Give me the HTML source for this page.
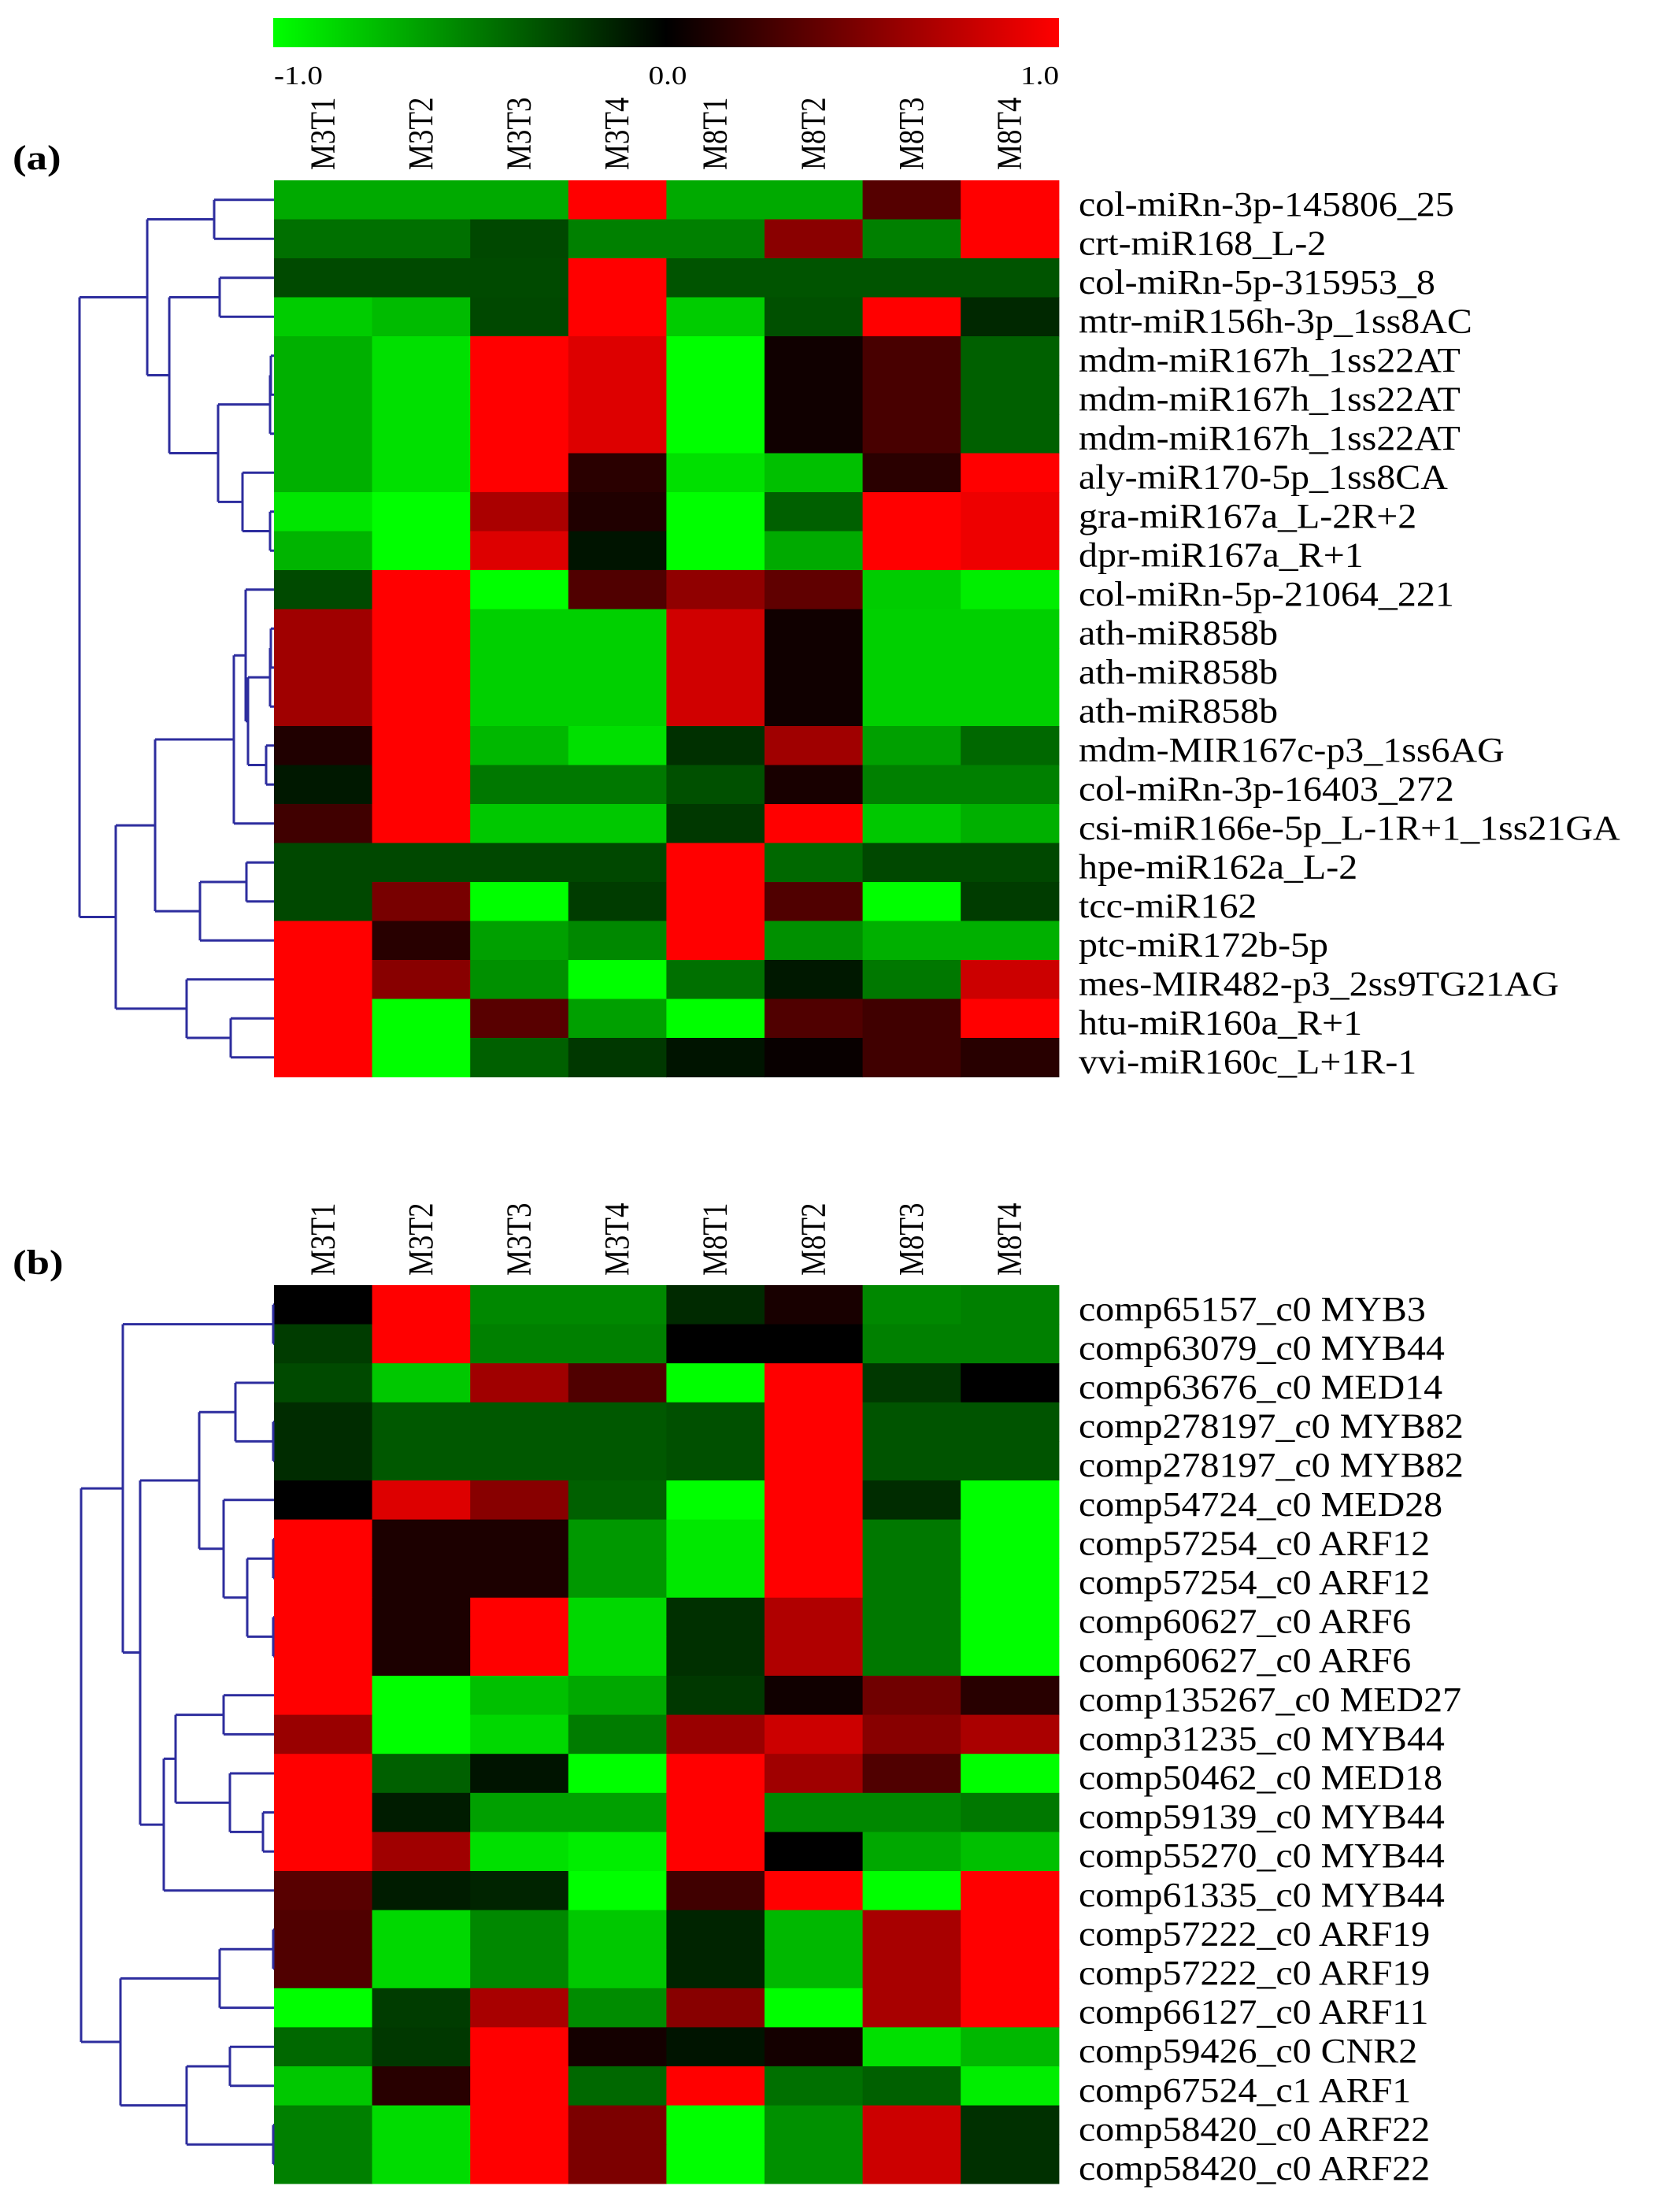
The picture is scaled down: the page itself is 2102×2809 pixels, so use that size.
<!DOCTYPE html>
<html><head><meta charset="utf-8"><style>
html,body{margin:0;padding:0;background:#fff;}
svg{display:block;}
text{font-family:"Liberation Serif",serif;fill:#000;}
</style></head><body>
<svg width="2102" height="2809" viewBox="0 0 2102 2809" xmlns="http://www.w3.org/2000/svg">
<defs>
<linearGradient id="cb" x1="0" x2="1" y1="0" y2="0">
<stop offset="0" stop-color="#00ff00"/><stop offset="0.5" stop-color="#000000"/><stop offset="1" stop-color="#ff0000"/>
</linearGradient>
</defs>
<rect x="347" y="23" width="998" height="37" fill="url(#cb)"/>
<g font-size="34">
<text transform="translate(348,107) scale(1.15,1)">-1.0</text>
<text transform="translate(848,107) scale(1.15,1)" text-anchor="middle">0.0</text>
<text transform="translate(1345,107) scale(1.15,1)" text-anchor="end">1.0</text>
</g>
<text transform="translate(16,215) scale(1.2,1)" font-size="44" font-weight="bold">(a)</text>
<text transform="translate(16,1618) scale(1.2,1)" font-size="44" font-weight="bold">(b)</text>
<g id="cells"></g>
<g id="labels"></g>
<g id="dend" fill="none" stroke="#2d2d9e" stroke-width="3"></g>
</svg>
<script>
const NS="http://www.w3.org/2000/svg";
const cols=["M3T1","M3T2","M3T3","M3T4","M8T1","M8T2","M8T3","M8T4"];
const A=[
["#00aa00","#00aa00","#00aa00","#ff0000","#00aa00","#00aa00","#550000","#ff0000"],
["#007000","#007000","#004800","#008000","#008000","#8a0000","#008000","#ff0000"],
["#004a00","#004a00","#004a00","#ff0000","#005400","#005400","#005400","#005400"],
["#00cc00","#00bb00","#004800","#ff0000","#00cc00","#005000","#ff0000","#002800"],
["#00b000","#00e000","#ff0000","#dd0000","#00ff00","#100000","#480000","#006000"],
["#00b000","#00e000","#ff0000","#dd0000","#00ff00","#100000","#480000","#006000"],
["#00b000","#00e000","#ff0000","#dd0000","#00ff00","#100000","#480000","#006000"],
["#00b000","#00e000","#ff0000","#2a0000","#00e000","#00c000","#2a0000","#ff0000"],
["#00e600","#00ff00","#aa0000","#200000","#00ff00","#006000","#ff0000","#ee0000"],
["#00b400","#00ff00","#dd0000","#001400","#00ff00","#00aa00","#ff0000","#ee0000"],
["#004a00","#ff0000","#00ff00","#500000","#900000","#600000","#00cc00","#00ee00"],
["#a00000","#ff0000","#00d000","#00d000","#d00000","#100000","#00d000","#00d000"],
["#a00000","#ff0000","#00d000","#00d000","#d00000","#100000","#00d000","#00d000"],
["#a00000","#ff0000","#00d000","#00d000","#d00000","#100000","#00d000","#00d000"],
["#200000","#ff0000","#00b800","#00e000","#003000","#a00000","#00a000","#006800"],
["#001800","#ff0000","#007800","#007800","#005000","#180000","#008000","#008000"],
["#400000","#ff0000","#00c800","#00c800","#003800","#ff0000","#00c800","#00b000"],
["#004800","#004800","#004800","#004800","#ff0000","#006800","#004800","#004800"],
["#004800","#780000","#00ff00","#003c00","#ff0000","#500000","#00ff00","#003c00"],
["#ff0000","#280000","#00a000","#008800","#ff0000","#009000","#00b000","#00b000"],
["#ff0000","#880000","#009000","#00ff00","#007000","#001800","#007800","#cc0000"],
["#ff0000","#00ff00","#580000","#00a000","#00ff00","#500000","#400000","#ff0000"],
["#ff0000","#00ff00","#006000","#003800","#001400","#080000","#400000","#280000"]];
const AL=["col-miRn-3p-145806_25","crt-miR168_L-2","col-miRn-5p-315953_8","mtr-miR156h-3p_1ss8AC","mdm-miR167h_1ss22AT","mdm-miR167h_1ss22AT","mdm-miR167h_1ss22AT","aly-miR170-5p_1ss8CA","gra-miR167a_L-2R+2","dpr-miR167a_R+1","col-miRn-5p-21064_221","ath-miR858b","ath-miR858b","ath-miR858b","mdm-MIR167c-p3_1ss6AG","col-miRn-3p-16403_272","csi-miR166e-5p_L-1R+1_1ss21GA","hpe-miR162a_L-2","tcc-miR162","ptc-miR172b-5p","mes-MIR482-p3_2ss9TG21AG","htu-miR160a_R+1","vvi-miR160c_L+1R-1"];
const B=[
["#000000","#ff0000","#008800","#008800","#002a00","#180000","#008800","#008000"],
["#003c00","#ff0000","#008000","#008000","#000000","#000000","#008000","#008000"],
["#004a00","#00c800","#a00000","#500000","#00ff00","#ff0000","#003800","#000000"],
["#002c00","#005800","#005800","#005800","#005000","#ff0000","#005400","#005400"],
["#002c00","#005800","#005800","#005800","#005000","#ff0000","#005400","#005400"],
["#000000","#dd0000","#880000","#006000","#00ff00","#ff0000","#002c00","#00ff00"],
["#ff0000","#1c0000","#1c0000","#009800","#00e800","#ff0000","#007800","#00ff00"],
["#ff0000","#1c0000","#1c0000","#009800","#00e800","#ff0000","#007800","#00ff00"],
["#ff0000","#1c0000","#ff0000","#00d800","#003000","#b00000","#007800","#00ff00"],
["#ff0000","#1c0000","#ff0000","#00d800","#003000","#b00000","#007800","#00ff00"],
["#ff0000","#00ff00","#00c000","#00a800","#003800","#100000","#700000","#280000"],
["#990000","#00ff00","#00d800","#007c00","#990000","#cc0000","#880000","#aa0000"],
["#ff0000","#006000","#001400","#00ff00","#ff0000","#a00000","#500000","#00ff00"],
["#ff0000","#001c00","#00a000","#00a000","#ff0000","#008800","#008800","#007800"],
["#ff0000","#a00000","#00e000","#00ee00","#ff0000","#000000","#00a800","#00c000"],
["#580000","#001c00","#002400","#00ff00","#400000","#ff0000","#00ff00","#ff0000"],
["#500000","#00d800","#008800","#00c800","#002400","#00b800","#a80000","#ff0000"],
["#500000","#00d800","#008800","#00c800","#002400","#00b800","#a80000","#ff0000"],
["#00ff00","#003c00","#a80000","#008c00","#880000","#00ff00","#a80000","#ff0000"],
["#006800","#003800","#ff0000","#140000","#001400","#140000","#00e000","#00b800"],
["#00c800","#280000","#ff0000","#006800","#ff0000","#007000","#006000","#00ee00"],
["#008000","#00dc00","#ff0000","#7c0000","#00ff00","#009000","#cc0000","#003000"],
["#008000","#00dc00","#ff0000","#7c0000","#00ff00","#009000","#cc0000","#003000"]];
const BL=["comp65157_c0 MYB3","comp63079_c0 MYB44","comp63676_c0 MED14","comp278197_c0 MYB82","comp278197_c0 MYB82","comp54724_c0 MED28","comp57254_c0 ARF12","comp57254_c0 ARF12","comp60627_c0 ARF6","comp60627_c0 ARF6","comp135267_c0 MED27","comp31235_c0 MYB44","comp50462_c0 MED18","comp59139_c0 MYB44","comp55270_c0 MYB44","comp61335_c0 MYB44","comp57222_c0 ARF19","comp57222_c0 ARF19","comp66127_c0 ARF11","comp59426_c0 CNR2","comp67524_c1 ARF1","comp58420_c0 ARF22","comp58420_c0 ARF22"];
const X0=348, CW=124.6;
function el(t,a,p,txt){const e=document.createElementNS(NS,t);for(const k in a)e.setAttribute(k,a[k]);if(txt)e.textContent=txt;p.appendChild(e);return e;}
const gc=document.getElementById("cells"), gl=document.getElementById("labels"), gd=document.getElementById("dend");
function heat(M,L,top,rh,colBottom){
  M.forEach((r,i)=>r.forEach((c,j)=>el("rect",{x:X0+CW*j,y:top+rh*i,width:CW+0.6,height:rh+0.6,fill:c},gc)));
  L.forEach((t,i)=>el("text",{transform:`translate(1370,${top+rh*(i+0.5)+20}) scale(1.09,1)`,"font-size":"44"},gl,t));
  cols.forEach((t,j)=>el("text",{transform:`translate(${X0+CW*(j+0.5)+14},${colBottom}) scale(1.2,1) rotate(-90)`,"font-size":"37"},gl,t));
}
const TA=229, RA=49.5, TB=1632, RB=49.6;
heat(A,AL,TA,RA,216);
heat(B,BL,TB,RB,1620);
const LEAF=348;
function ya(i){return TA+RA*(i+0.5);} function yb(i){return TB+RB*(i+0.5);}
function build(node,rowY){
  if(typeof node==="number") return {y:rowY(node),x:LEAF};
  const kids=node.c.map(k=>build(k,rowY));
  const ys=kids.map(k=>k.y);
  const ymin=Math.min(...ys), ymax=Math.max(...ys);
  el("path",{d:`M${node.x},${ymin}V${ymax}`},gd);
  kids.forEach(k=>el("path",{d:`M${node.x},${k.y}H${k.x}`},gd));
  return {x:node.x,y:(ymin+ymax)/2};
}
const treeA={x:101,c:[
  {x:187,c:[{x:272,c:[0,1]},{x:215,c:[{x:279,c:[2,3]},{x:277,c:[{x:343,c:[{x:344,c:[4,5]},6]},{x:308,c:[7,{x:343,c:[8,9]}]}]}]}]},
  {x:147,c:[
    {x:197,c:[{x:297,c:[{x:312,c:[10,{x:315,c:[{x:343,c:[{x:344,c:[11,12]},13]},{x:338,c:[14,15]}]}]},16]},{x:254,c:[{x:313,c:[17,18]},19]}]},
    {x:237,c:[20,{x:293,c:[21,22]}]}]}]};
build(treeA,ya);
const treeB={x:103,c:[
  {x:156,c:[{x:347,c:[0,1]},
    {x:178,c:[
      {x:253,c:[{x:299,c:[2,{x:347,c:[3,4]}]},{x:284,c:[5,{x:314,c:[{x:347,c:[6,7]},{x:347,c:[8,9]}]}]}]},
      {x:208,c:[{x:223,c:[{x:284,c:[10,11]},{x:292,c:[12,{x:334,c:[13,14]}]}]},15]}]}]},
  {x:153,c:[{x:279,c:[{x:347,c:[16,17]},18]},{x:237,c:[{x:292,c:[19,20]},{x:347,c:[21,22]}]}]}]};
build(treeB,yb);
</script>
</body></html>
